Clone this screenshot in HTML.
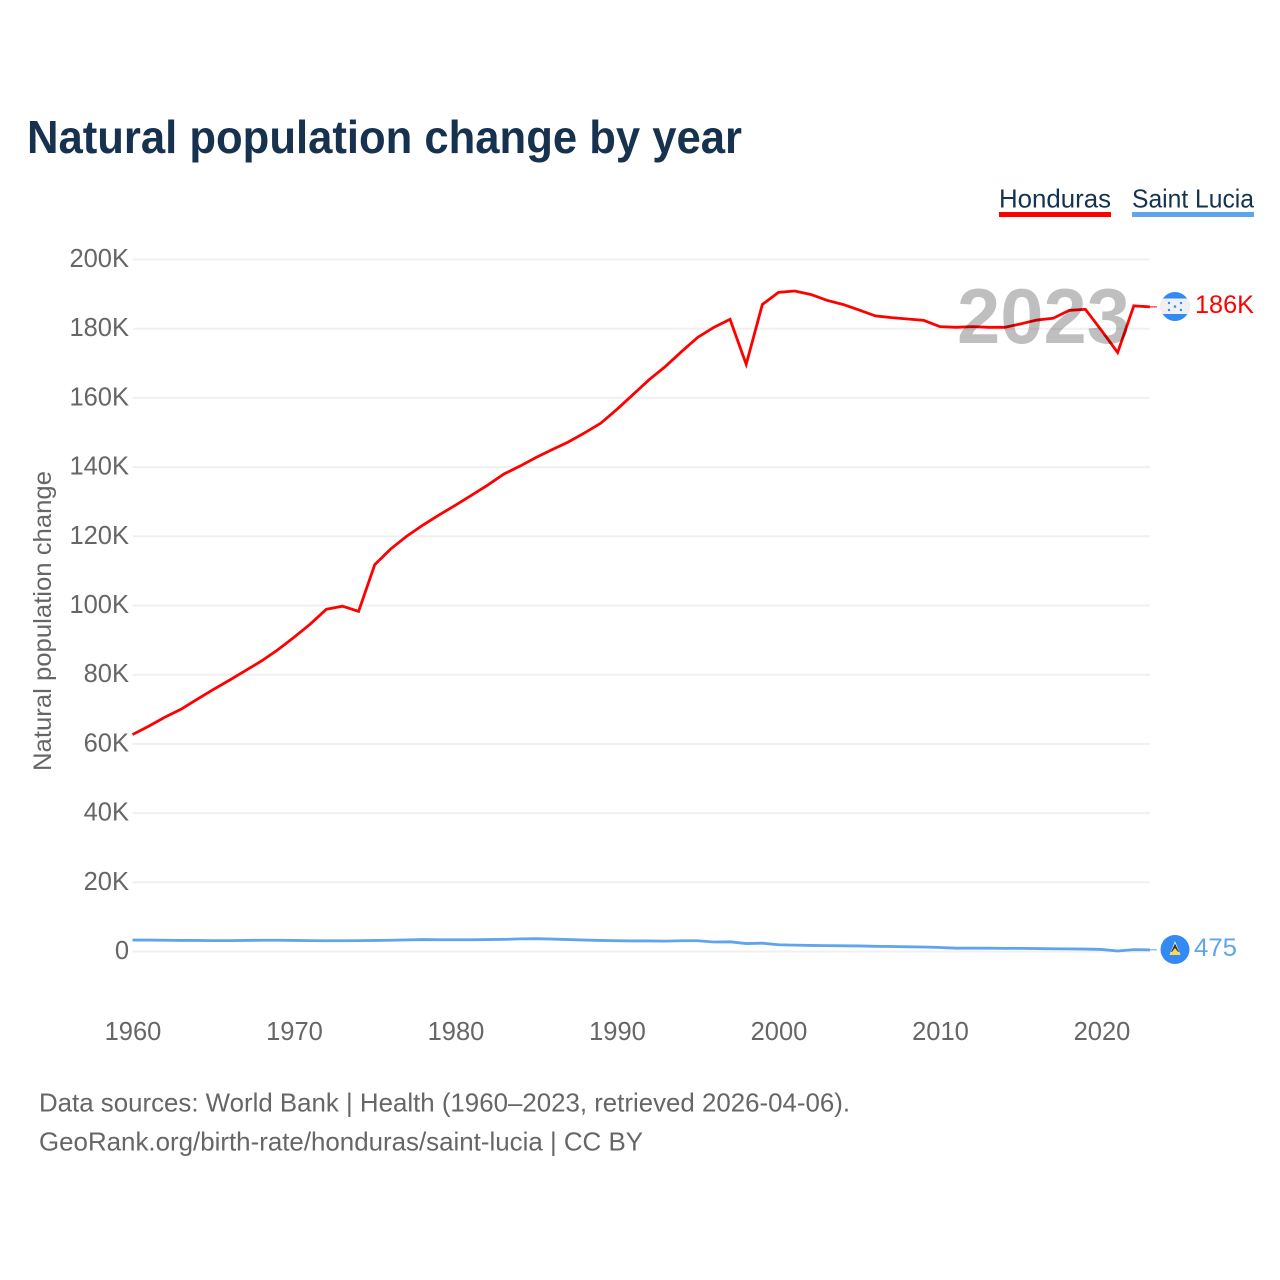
<!DOCTYPE html>
<html lang="en">
<head>
<meta charset="utf-8">
<title>Natural population change by year</title>
<style>
html,body{margin:0;padding:0;background:#fff;width:1280px;height:1280px;overflow:hidden}
svg{display:block}
text{font-family:"Liberation Sans",sans-serif}
</style>
</head>
<body>
<svg id="chart" width="1280" height="1280" viewBox="0 0 1280 1280" xmlns="http://www.w3.org/2000/svg">
  <text x="27" y="153" font-size="46" font-weight="700" fill="#17324f" textLength="715" lengthAdjust="spacingAndGlyphs">Natural population change by year</text>
  <g>
    <text x="999" y="207.5" font-size="26" fill="#17324f" textLength="112" lengthAdjust="spacingAndGlyphs">Honduras</text>
    <rect x="999" y="212" width="112" height="5" fill="#ff0000"/>
  </g>
  <g>
    <text x="1132" y="207.5" font-size="26" fill="#17324f" textLength="122" lengthAdjust="spacingAndGlyphs">Saint Lucia</text>
    <rect x="1132" y="212" width="122" height="5" fill="#5ea5ee"/>
  </g>
  <g id="grid"></g>
  <g id="yticks"></g>
  <g id="xticks"></g>
  <text transform="translate(51 771) rotate(-90)" font-size="25" fill="#666" textLength="300" lengthAdjust="spacingAndGlyphs">Natural population change</text>
  <g id="series"></g>
  <text x="957" y="343" font-size="78" font-weight="700" fill="#000" fill-opacity="0.25" textLength="173" lengthAdjust="spacingAndGlyphs">2023</text>
  <g>
    <clipPath id="hnClip"><circle cx="1175" cy="306.5" r="14.5"/></clipPath>
    <g clip-path="url(#hnClip)">
      <rect x="1160" y="292" width="30" height="30" fill="#338af3"/>
      <rect x="1160" y="298.5" width="30" height="15.5" fill="#f0f0f0"/>
      <circle cx="1175" cy="306.5" r="1.3" fill="#338af3"/>
      <circle cx="1169" cy="303" r="1.2" fill="#338af3"/>
      <circle cx="1181" cy="303" r="1.2" fill="#338af3"/>
      <circle cx="1169" cy="310" r="1.2" fill="#338af3"/>
      <circle cx="1181" cy="310" r="1.2" fill="#338af3"/>
    </g>
  </g>
  <text x="1195" y="313" font-size="25" fill="#ff0000" textLength="59" lengthAdjust="spacingAndGlyphs">186K</text>
  <g>
    <circle cx="1175" cy="949.5" r="14.5" fill="#338af3"/>
    <polygon points="1175,941 1180.5,955 1169.5,955" fill="#f0f0f0"/>
    <polygon points="1175,943.5 1179,952 1171,952" fill="#333"/>
    <polygon points="1175,948 1180.5,955 1169.5,955" fill="#ffda44"/>
  </g>
  <text x="1194" y="956" font-size="25" fill="#5ea5ee" textLength="43" lengthAdjust="spacingAndGlyphs">475</text>
  <text x="39" y="1111.5" font-size="26" fill="#666" textLength="811" lengthAdjust="spacingAndGlyphs">Data sources: World Bank | Health (1960–2023, retrieved 2026-04-06).</text>
  <text x="39" y="1150.5" font-size="26" fill="#666" textLength="604" lengthAdjust="spacingAndGlyphs">GeoRank.org/birth-rate/honduras/saint-lucia | CC BY</text>
</svg>
<script>
var startYear = 1960;
var xTickYears = [1960, 1970, 1980, 1990, 2000, 2010, 2020];
var yTickValues = [0, 20000, 40000, 60000, 80000, 100000, 120000, 140000, 160000, 180000, 200000];
var yTickLabels = ['0', '20K', '40K', '60K', '80K', '100K', '120K', '140K', '160K', '180K', '200K'];
var honduras = [62700, 65100, 67700, 70000, 72900, 75700, 78400, 81200, 84000, 87200,
  90800, 94600, 98900, 99800, 98300, 111800, 116400, 120100, 123300, 126200,
  129000, 131900, 134800, 138000, 140300, 142800, 145100, 147300, 149900, 152700,
  156700, 161000, 165300, 169100, 173400, 177500, 180400, 182700, 169700, 187000,
  190500, 190900, 189900, 188200, 187000, 185400, 183700, 183200, 182800, 182400,
  180600, 180400, 180600, 180400, 180400, 181400, 182500, 183000, 185300, 185600,
  179500, 173100, 186600, 186300];
var saintLucia = [3300, 3300, 3250, 3200, 3200, 3150, 3150, 3200, 3250, 3250,
  3200, 3150, 3100, 3100, 3150, 3200, 3250, 3350, 3450, 3400,
  3400, 3400, 3450, 3500, 3650, 3700, 3600, 3450, 3300, 3200,
  3100, 3050, 3050, 3000, 3100, 3100, 2750, 2800, 2300, 2400,
  1950, 1850, 1750, 1700, 1650, 1600, 1500, 1450, 1350, 1300,
  1150, 950, 950, 950, 900, 900, 850, 800, 750, 700,
  600, 150, 550, 475];

function xScale(year) { return 132.5 + (year - 1960) * 16.15; }
function yScale(value) { return 951.5 - value * 0.00346; }

var svgNS = 'http://www.w3.org/2000/svg';
var gridGroup = document.getElementById('grid');
var yTickGroup = document.getElementById('yticks');
var xTickGroup = document.getElementById('xticks');
var seriesGroup = document.getElementById('series');

yTickValues.forEach(function (value, i) {
  var line = document.createElementNS(svgNS, 'line');
  
  
  line.setAttribute('x1', xScale(1960));
  line.setAttribute('x2', 1150);
  line.setAttribute('y1', yScale(value));
  line.setAttribute('y2', yScale(value));
  line.setAttribute('stroke', '#f0f0f0');
  line.setAttribute('stroke-width', '2');
  gridGroup.appendChild(line);

  var label = document.createElementNS(svgNS, 'text');
  
  
  label.setAttribute('x', 129);
  label.setAttribute('y', yScale(value) + 7.5);
  label.setAttribute('text-anchor', 'end');
  label.setAttribute('font-size', '25.5');
  label.setAttribute('fill', '#666');
  label.textContent = yTickLabels[i];
  yTickGroup.appendChild(label);
});

xTickYears.forEach(function (year) {
  var label = document.createElementNS(svgNS, 'text');
  
  
  label.setAttribute('x', xScale(year) + 0.5);
  label.setAttribute('y', 1040);
  label.setAttribute('text-anchor', 'middle');
  label.setAttribute('font-size', '25.5');
  label.setAttribute('fill', '#666');
  label.textContent = String(year);
  xTickGroup.appendChild(label);
});

function drawSeries(values, color, name) {
  var points = values.map(function (value, i) {
    return xScale(startYear + i).toFixed(2) + ',' + yScale(value).toFixed(2);
  });
  var last = values.length - 1;

  var connector = document.createElementNS(svgNS, 'line');
  
  
  connector.setAttribute('x1', xScale(startYear + last));
  connector.setAttribute('x2', 1157);
  connector.setAttribute('y1', yScale(values[last]));
  connector.setAttribute('y2', yScale(values[last]));
  connector.setAttribute('stroke', color);
  connector.setAttribute('stroke-width', '1');
  seriesGroup.appendChild(connector);

  var line = document.createElementNS(svgNS, 'polyline');
  
  
  line.setAttribute('points', points.join(' '));
  line.setAttribute('fill', 'none');
  line.setAttribute('stroke', color);
  line.setAttribute('stroke-width', '2.8');
  line.setAttribute('stroke-linejoin', 'miter');
  seriesGroup.appendChild(line);
}

drawSeries(honduras, '#ff0000', 'honduras');
drawSeries(saintLucia, '#5ea5ee', 'saint-lucia');
</script>
</body>
</html>
